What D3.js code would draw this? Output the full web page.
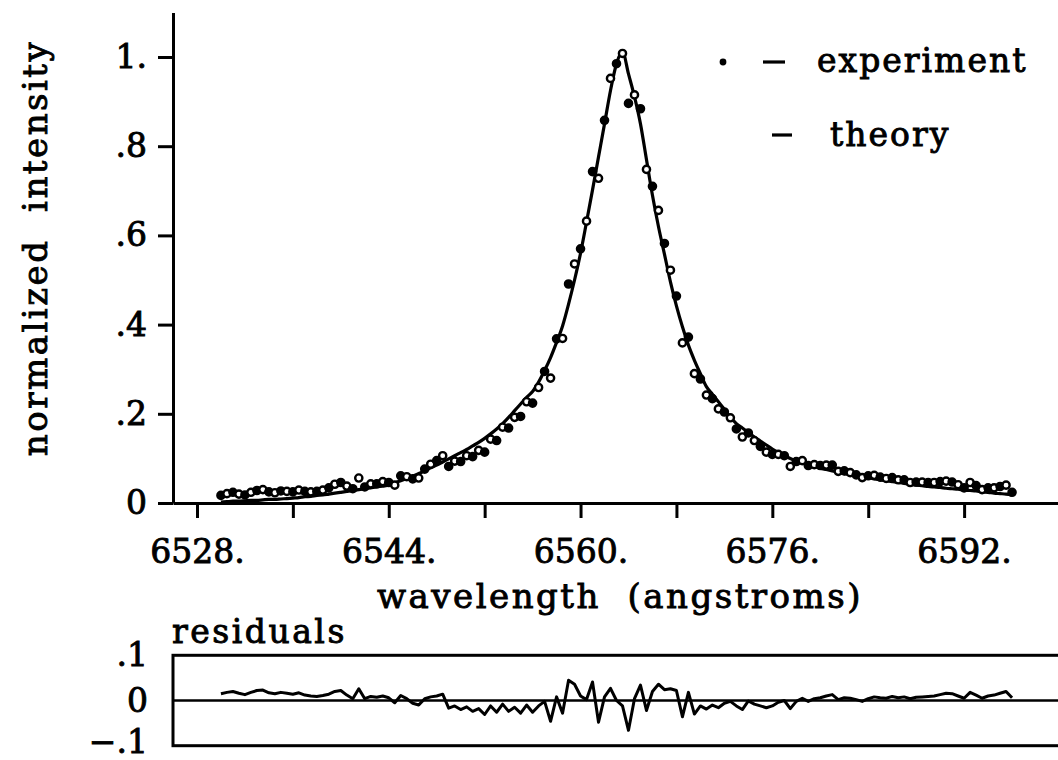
<!DOCTYPE html>
<html>
<head>
<meta charset="utf-8">
<script src="https://cdn.jsdelivr.net/npm/d3@7/dist/d3.min.js"></script>
<style>
  body { margin: 0; background: #fff; }
  svg text { font-family: "DejaVu Serif", serif; fill: #000; stroke: #000; stroke-width: 0.9px; }
</style>
</head>
<body>
<div id="chart"></div>
<script>
// sample wavelengths (angstroms)
var wavelength = [
  6530, 6530.5, 6531, 6531.5, 6532, 6532.5, 6533, 6533.5, 6534, 6534.5,
  6535, 6535.5, 6536, 6536.5, 6537, 6537.5, 6538, 6538.5, 6539, 6539.5,
  6540, 6540.5, 6541, 6541.5, 6542, 6542.5, 6543, 6543.5, 6544, 6544.5,
  6545, 6545.5, 6546, 6546.5, 6547, 6547.5, 6548, 6548.5, 6549, 6549.5,
  6550, 6550.5, 6551, 6551.5, 6552, 6552.5, 6553, 6553.5, 6554, 6554.5,
  6555, 6555.5, 6556, 6556.5, 6557, 6557.5, 6558, 6558.5, 6559, 6559.5,
  6560, 6560.5, 6561, 6561.5, 6562, 6562.5, 6563, 6563.5, 6564, 6564.5,
  6565, 6565.5, 6566, 6566.5, 6567, 6567.5, 6568, 6568.5, 6569, 6569.5,
  6570, 6570.5, 6571, 6571.5, 6572, 6572.5, 6573, 6573.5, 6574, 6574.5,
  6575, 6575.5, 6576, 6576.5, 6577, 6577.5, 6578, 6578.5, 6579, 6579.5,
  6580, 6580.5, 6581, 6581.5, 6582, 6582.5, 6583, 6583.5, 6584, 6584.5,
  6585, 6585.5, 6586, 6586.5, 6587, 6587.5, 6588, 6588.5, 6589, 6589.5,
  6590, 6590.5, 6591, 6591.5, 6592, 6592.5, 6593, 6593.5, 6594, 6594.5,
  6595, 6595.5, 6596
];

// fitted profile
var theory = [
  .002, .003, .004, .004, .005, .006, .006, .007, .008, .008,
  .009, .010, .011, .012, .014, .015, .017, .018, .020, .022,
  .024, .026, .028, .030, .032, .034, .036, .038, .040, .045,
  .050, .055, .060, .066, .072, .079, .085, .092, .099, .106,
  .113, .120, .128, .136, .145, .155, .166, .178, .192, .207,
  .222, .237, .250, .271, .297, .326, .360, .397, .446, .500,
  .560, .630, .702, .776, .850, .925, .985, 1.012, .962, .911,
  .850, .770, .690, .620, .558, .496, .442, .395, .354, .320,
  .290, .261, .244, .227, .210, .193, .178, .168, .158, .148,
  .139, .130, .121, .113, .106, .100, .095, .090, .086, .082,
  .078, .075, .072, .069, .066, .063, .061, .059, .057, .054,
  .052, .050, .048, .046, .044, .042, .040, .039, .037, .036,
  .035, .033, .032, .031, .029, .028, .027, .025, .024, .022,
  .021, .020, .018
];

// measured points
var experiment = [
  .017, .021, .024, .020, .018, .024, .028, .030, .025, .023,
  .027, .026, .025, .029, .026, .025, .026, .029, .034, .042,
  .046, .038, .032, .056, .036, .043, .043, .048, .046, .040,
  .061, .059, .054, .056, .076, .087, .095, .106, .082, .094,
  .093, .106, .104, .118, .114, .143, .140, .170, .168, .192,
  .194, .227, .224, .259, .295, .280, .368, .369, .491, .536,
  .570, .632, .743, .728, .858, .952, .985, 1.008, .896, .915,
  .884, .748, .710, .656, .582, .522, .464, .359, .372, .290,
  .278, .242, .234, .211, .204, .191, .166, .148, .157, .140,
  .127, .114, .109, .109, .106, .082, .093, .095, .084, .086,
  .084, .085, .085, .071, .072, .068, .063, .057, .061, .062,
  .058, .055, .057, .052, .052, .046, .047, .047, .046, .046,
  .048, .049, .047, .041, .034, .046, .039, .030, .034, .034,
  .037, .040, .024
];

// experiment - theory
var residual = [
  .015, .018, .020, .016, .013, .018, .022, .023, .017, .015,
  .018, .016, .014, .017, .012, .010, .009, .011, .014, .020,
  .022, .012, .004, .026, .004, .009, .007, .010, .006, -.005,
  .011, .004, -.006, -.010, .004, .008, .010, .014, -.017, -.012,
  -.020, -.014, -.024, -.018, -.031, -.012, -.026, -.008, -.024, -.015,
  -.028, -.010, -.026, -.012, -.002, -.046, .008, -.028, .045, .036,
  .010, .002, .041, -.048, .008, .027, .000, -.012, -.066, .004,
  .034, -.022, .020, .036, .024, .026, .022, -.036, .018, -.030,
  -.012, -.019, -.010, -.016, -.006, -.002, -.012, -.020, -.001, -.008,
  -.012, -.016, -.012, -.004, .000, -.018, -.002, .005, -.002, .004,
  .006, .010, .013, .002, .006, .005, .002, -.002, .004, .008,
  .006, .005, .009, .006, .008, .004, .007, .008, .009, .010,
  .013, .016, .015, .010, .005, .018, .012, .005, .010, .012,
  .016, .020, .006
];

// axis ticks and their labels
var xTicks = [6528, 6536, 6544, 6552, 6560, 6568, 6576, 6584, 6592, 6600];
var xTickLabels = ["6528.", "", "6544.", "", "6560.", "", "6576.", "", "6592.", ""];
var yTicks = [0, .2, .4, .6, .8, 1];
var yTickLabels = ["0", ".2", ".4", ".6", ".8", "1."];
var rTicks = [-.1, 0, .1];
var rTickLabels = ["\u2212.1", "0", ".1"];

var width = 1058,
    height = 760;

var svg = d3.select("#chart").append("svg")
    .attr("width", width)
    .attr("height", height);

var x = d3.scaleLinear().domain([6526, 6600]).range([173, 1060]);
var y = d3.scaleLinear().domain([0, 1.1]).range([503, 12.4]);
var r = d3.scaleLinear().domain([-.1, .1]).range([745.7, 655.3]);

// style an axis group the way the old plot looks
function styleAxis(g) {
    g.attr("font-family", null).attr("font-size", null);
    g.selectAll("path, line").attr("stroke", "#000").attr("stroke-width", 3);
    g.selectAll("text").style("font-size", "33px");
}

// x axis
svg.append("g")
    .attr("transform", "translate(0,503)")
    .call(d3.axisBottom(x)
        .tickValues(xTicks)
        .tickSize(15)
        .tickSizeOuter(0)
        .tickPadding(22)
        .tickFormat(function(d, i) { return xTickLabels[i]; }))
    .call(styleAxis);

// y axis
svg.append("g")
    .attr("transform", "translate(173,0)")
    .call(d3.axisLeft(y)
        .tickValues(yTicks)
        .tickSize(15)
        .tickSizeOuter(0)
        .tickPadding(11)
        .tickFormat(function(d, i) { return yTickLabels[i]; }))
    .call(styleAxis);

// theory curve
var theoryLine = d3.line()
    .x(function(d, i) { return x(wavelength[i]); })
    .y(function(d) { return y(d); })
    .curve(d3.curveMonotoneX);

svg.append("path")
    .datum(theory)
    .attr("d", theoryLine)
    .attr("fill", "none")
    .attr("stroke", "#000")
    .attr("stroke-width", 3.2);

// experiment points, a mix of filled and open circles
svg.append("g").selectAll("circle")
    .data(experiment)
    .enter().append("circle")
        .attr("cx", function(d, i) { return x(wavelength[i]); })
        .attr("cy", function(d) { return y(d); })
        .attr("r", 3.6)
        .attr("fill", function(d, i) { return i % 2 ? "#fff" : "#000"; })
        .attr("stroke", "#000")
        .attr("stroke-width", 2.4);

// legend
svg.append("circle").attr("cx", 723).attr("cy", 62).attr("r", 3.4).attr("fill", "#000");
svg.append("line").attr("x1", 763).attr("x2", 785).attr("y1", 62).attr("y2", 62)
    .attr("stroke", "#000").attr("stroke-width", 3.2);
svg.append("text").attr("x", 817).attr("y", 72)
    .style("font-size", "33px").style("letter-spacing", "2px")
    .text("experiment");
svg.append("line").attr("x1", 772).attr("x2", 792).attr("y1", 135).attr("y2", 135)
    .attr("stroke", "#000").attr("stroke-width", 3.2);
svg.append("text").attr("x", 830).attr("y", 146)
    .style("font-size", "33px").style("letter-spacing", "2px")
    .text("theory");

// axis titles
svg.append("text")
    .attr("x", 620).attr("y", 608)
    .attr("text-anchor", "middle")
    .style("font-size", "34px").style("letter-spacing", "2.5px").style("white-space", "pre")
    .text("wavelength  (angstroms)");

svg.append("text")
    .attr("transform", "translate(47,248) rotate(-90)")
    .attr("text-anchor", "middle")
    .style("font-size", "34px").style("letter-spacing", "2.5px").style("white-space", "pre")
    .text("normalized  intensity");

// residuals panel
svg.append("text")
    .attr("x", 172).attr("y", 643)
    .style("font-size", "33px").style("letter-spacing", "2.5px")
    .text("residuals");

svg.append("rect")
    .attr("x", 173).attr("y", r(.1))
    .attr("width", 900).attr("height", r(-.1) - r(.1))
    .attr("fill", "none")
    .attr("stroke", "#000")
    .attr("stroke-width", 3);

svg.append("line")
    .attr("x1", 173).attr("x2", 1060)
    .attr("y1", r(0)).attr("y2", r(0))
    .attr("stroke", "#000")
    .attr("stroke-width", 2.6);

var rAxis = svg.append("g")
    .attr("transform", "translate(173,0)")
    .call(d3.axisLeft(r)
        .tickValues(rTicks)
        .tickSize(0)
        .tickPadding(25)
        .tickFormat(function(d, i) { return rTickLabels[i]; }))
    .call(styleAxis);
rAxis.select(".domain").remove();
// keep the lowest label inside the page
rAxis.selectAll("text").attr("dy", function(d) { return d < 0 ? "0.2em" : "0.32em"; });

var residualLine = d3.line()
    .x(function(d, i) { return x(wavelength[i]); })
    .y(function(d) { return r(d); });

svg.append("path")
    .datum(residual)
    .attr("d", residualLine)
    .attr("fill", "none")
    .attr("stroke", "#000")
    .attr("stroke-width", 3)
    .attr("stroke-linejoin", "round");
</script>
</body>
</html>
